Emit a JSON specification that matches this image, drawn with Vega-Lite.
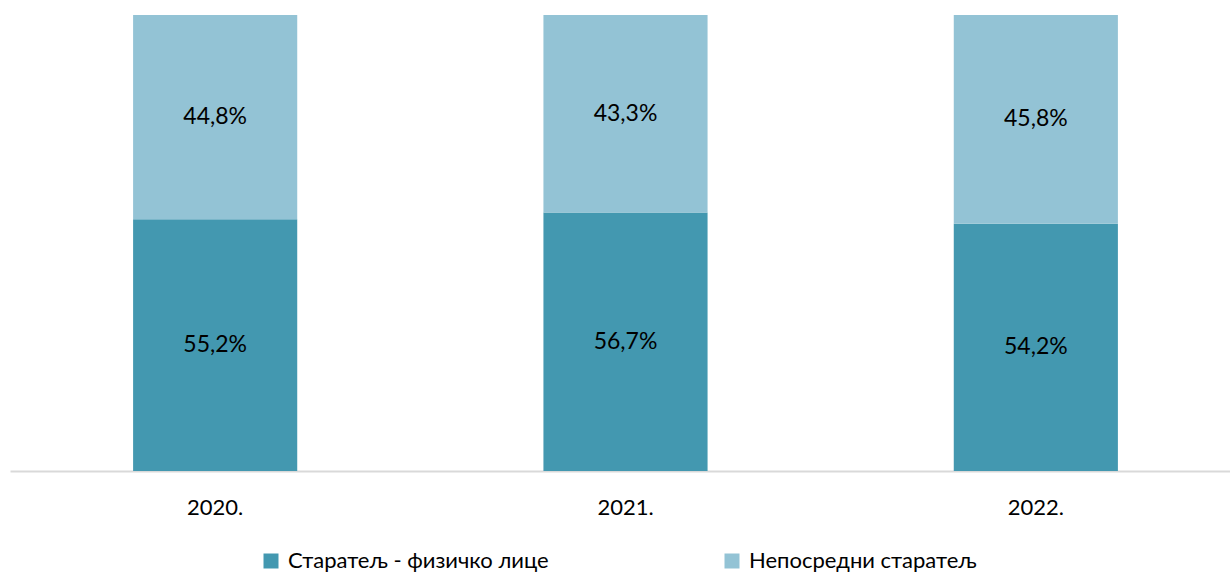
{
  "$schema": "https://vega.github.io/schema/vega-lite/v6.json",
  "width": 1231,
  "height": 456,
  "autosize": {"type": "none"},
  "padding": {"left": 10, "top": 15, "right": 0, "bottom": 102},
  "background": "white",
  "config": {
    "view": {"stroke": null},
    "font": "Lato",
    "locale": {"number": {"decimal": ",", "thousands": ".", "grouping": [3], "currency": ["", ""]}}
  },
  "data": {
    "values": [
      {"year": "2020.", "series": "Старатељ - физичко лице", "ord": 1, "value": 55.2},
      {"year": "2020.", "series": "Непосредни старатељ", "ord": 2, "value": 44.8},
      {"year": "2021.", "series": "Старатељ - физичко лице", "ord": 1, "value": 56.7},
      {"year": "2021.", "series": "Непосредни старатељ", "ord": 2, "value": 43.3},
      {"year": "2022.", "series": "Старатељ - физичко лице", "ord": 1, "value": 54.2},
      {"year": "2022.", "series": "Непосредни старатељ", "ord": 2, "value": 45.8}
    ]
  },
  "transform": [
    {"stack": "value", "groupby": ["year"], "sort": [{"field": "ord", "order": "ascending"}], "as": ["v0", "v1"]},
    {"calculate": "(datum.v0 + datum.v1) / 2", "as": "mid"},
    {"calculate": "format(datum.value, '.1f') + '%'", "as": "label"}
  ],
  "encoding": {
    "x": {
      "field": "year", "type": "nominal",
      "scale": {"paddingInner": 0.6, "paddingOuter": 0.3},
      "axis": {
        "title": null, "labelAngle": 0, "labelFontSize": 22, "labelColor": "#000000",
        "labelPadding": 26, "ticks": false, "domainColor": "#d9d9d9", "domainWidth": 2
      }
    }
  },
  "layer": [
    {
      "mark": {"type": "bar"},
      "encoding": {
        "y": {"field": "v1", "type": "quantitative", "scale": {"domain": [0, 100]}, "axis": null},
        "y2": {"field": "v0"},
        "color": {
          "field": "series", "type": "nominal",
          "scale": {"domain": ["Старатељ - физичко лице", "Непосредни старатељ"], "range": ["#4398B0", "#93C3D5"]},
          "legend": {
            "title": null, "orient": "none", "direction": "horizontal",
            "legendX": 250, "legendY": 535,
            "symbolType": "square", "symbolSize": 225, "symbolStrokeWidth": 0,
            "labelFontSize": 22, "labelColor": "#000000", "labelLimit": 0,
            "columnPadding": 172, "labelOffset": 6
          }
        }
      }
    },
    {
      "mark": {"type": "text", "fontSize": 23, "color": "#000000"},
      "encoding": {
        "y": {"field": "mid", "type": "quantitative", "scale": {"domain": [0, 100]}},
        "text": {"field": "label", "type": "nominal"}
      }
    }
  ]
}
